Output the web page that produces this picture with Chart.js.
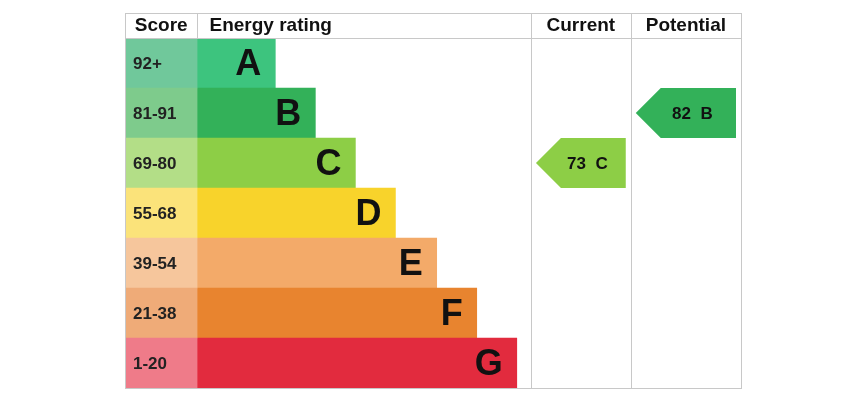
<!DOCTYPE html>
<html>
<head>
<meta charset="utf-8">
<script src="https://cdn.jsdelivr.net/npm/chart.js@4"></script>
<style>
  html, body { margin: 0; padding: 0; background: #fff; }
  #wrap { width: 862px; height: 404px; }
</style>
</head>
<body>
<div id="wrap"><canvas id="epc"></canvas></div>
<script>
// Ratings and score bands
const ratings = ['A', 'B', 'C', 'D', 'E', 'F', 'G'];
const scoreBands = ['92+', '81-91', '69-80', '55-68', '39-54', '21-38', '1-20'];
// bar extents on a 0..100 table width scale
const scoreColEnd = 11.7;
const barEnds = [24.4, 30.9, 37.4, 43.9, 50.6, 57.1, 63.6];
const barColors = ['#3dc47e', '#33b159', '#8dce46', '#f8d32b', '#f3aa69', '#e8842f', '#e22b3e'];
const bandColors = ['#70c89b', '#7ecb8c', '#b3de87', '#fbe37a', '#f6c69c', '#efab78', '#ef7b89'];
// current / potential
const currentScore = 73, currentRating = 'C';
const potentialScore = 82, potentialRating = 'B';
const colCurrent = [65.9, 82.1];
const colPotential = [82.1, 100];

const tablePlugin = {
  id: 'tablePlugin',
  afterDatasetsDraw(chart) {
    const { ctx, chartArea: a, scales: { x, y } } = chart;
    const rowH = y.getPixelForValue(1) - y.getPixelForValue(0);
    ctx.save();
    // letters in bars and score labels
    ratings.forEach((r, i) => {
      const cy = y.getPixelForValue(i);
      ctx.fillStyle = '#111';
      ctx.textBaseline = 'middle';
      ctx.font = 'bold 36px "Liberation Sans", Arial, sans-serif';
      ctx.textAlign = 'right';
      ctx.fillText(r, x.getPixelForValue(barEnds[i]) - 14, cy + 2);
      ctx.font = 'bold 17px "Liberation Sans", Arial, sans-serif';
      ctx.textAlign = 'left';
      ctx.fillStyle = '#222';
      ctx.fillText(scoreBands[i], x.getPixelForValue(0) + 8, cy + 1);
    });
    // arrows
    function arrow(col, rating, score, color) {
      const i = ratings.indexOf(rating);
      const cy = y.getPixelForValue(i);
      const x0 = x.getPixelForValue(col[0]) + 5, x1 = x.getPixelForValue(col[1]) - 5;
      const h = rowH / 2;
      ctx.fillStyle = color;
      ctx.beginPath();
      ctx.moveTo(x0, cy);
      ctx.lineTo(x0 + h, cy - h);
      ctx.lineTo(x1, cy - h);
      ctx.lineTo(x1, cy + h);
      ctx.lineTo(x0 + h, cy + h);
      ctx.closePath();
      ctx.fill();
      ctx.fillStyle = '#111';
      ctx.font = 'bold 17px "Liberation Sans", Arial, sans-serif';
      ctx.textAlign = 'center';
      ctx.textBaseline = 'middle';
      ctx.fillText(score + '  ' + rating, (x0 + h + x1) / 2 - 6, cy + 1);
    }
    arrow(colCurrent, currentRating, currentScore, barColors[ratings.indexOf(currentRating)]);
    arrow(colPotential, potentialRating, potentialScore, barColors[ratings.indexOf(potentialRating)]);
    // grid
    const top = a.top - 25;
    ctx.strokeStyle = '#c8c8c8';
    ctx.lineWidth = 1;
    ctx.strokeRect(a.left + 0.5, top + 0.5, a.right - a.left, a.bottom - top);
    ctx.beginPath();
    ctx.moveTo(a.left, a.top + 0.5); ctx.lineTo(a.right, a.top + 0.5);
    const sx = Math.round(x.getPixelForValue(scoreColEnd)) + 0.5;
    ctx.moveTo(sx, top); ctx.lineTo(sx, a.top);
    [colCurrent[0], colPotential[0]].forEach(v => {
      const px = Math.round(x.getPixelForValue(v)) + 0.5;
      ctx.moveTo(px, top); ctx.lineTo(px, a.bottom);
    });
    ctx.stroke();
    // headers
    ctx.fillStyle = '#111';
    ctx.font = 'bold 19px "Liberation Sans", Arial, sans-serif';
    ctx.textBaseline = 'middle';
    const hy = top + 13;
    ctx.textAlign = 'center';
    ctx.fillText('Score', (x.getPixelForValue(0) + sx) / 2, hy);
    ctx.textAlign = 'left';
    ctx.fillText('Energy rating', sx + 12, hy);
    ctx.textAlign = 'center';
    ctx.fillText('Current', (x.getPixelForValue(colCurrent[0]) + x.getPixelForValue(colCurrent[1])) / 2, hy);
    ctx.fillText('Potential', (x.getPixelForValue(colPotential[0]) + x.getPixelForValue(colPotential[1])) / 2, hy);
    ctx.restore();
  }
};

new Chart(document.getElementById('epc'), {
  type: 'bar',
  data: {
    labels: ratings,
    datasets: [
      { data: ratings.map(() => [0, scoreColEnd]), backgroundColor: bandColors, grouped: false },
      { data: barEnds.map(v => [scoreColEnd, v]), backgroundColor: barColors, grouped: false }
    ]
  },
  options: {
    indexAxis: 'y',
    responsive: true,
    maintainAspectRatio: false,
    animation: false,
    layout: { padding: { left: 125, right: 121, top: 38, bottom: 16 } },
    datasets: { bar: { categoryPercentage: 1, barPercentage: 1, borderWidth: 0 } },
    scales: {
      x: { display: false, min: 0, max: 100 },
      y: { display: false }
    },
    plugins: { legend: { display: false }, tooltip: { enabled: false } }
  },
  plugins: [tablePlugin]
});
</script>
</body>
</html>
